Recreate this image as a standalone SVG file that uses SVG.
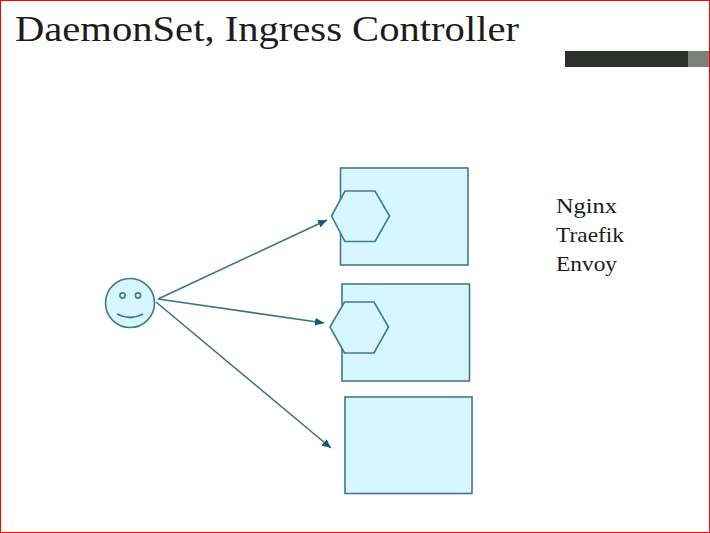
<svg xmlns="http://www.w3.org/2000/svg" width="710" height="533" viewBox="0 0 710 533">
<style>
.s{fill:#d6f7ff;stroke:#41798d;stroke-width:1.6}
.c{fill:none;stroke:#38758b;stroke-width:1.6;marker-end:url(#a)}
.f{fill:none;stroke:#41798d}
.t{font-family:"Liberation Serif",serif;fill:#1c1c1c}
.l{font-size:21px}
</style>
<defs><marker id="a" markerUnits="userSpaceOnUse" markerWidth="10" markerHeight="8" refX="9" refY="4" orient="auto"><path d="M0 0L9 4L0 8z" fill="#0f5a78"/></marker></defs>
<rect width="710" height="533" fill="#fff"/>
<rect x="0.500" y="0.500" width="709" height="532" fill="none" stroke="#f00"/>
<text class="t" x="15" y="41" font-size="36" textLength="504" lengthAdjust="spacingAndGlyphs">DaemonSet, Ingress Controller</text>
<rect x="565" y="51" width="123" height="16" fill="#2e302d"/>
<rect x="688" y="51" width="21" height="16" fill="#7d7f7b"/>
<g id="node1"><rect class="s" x="340.500" y="168" width="127.500" height="97"/></g>
<g id="node2"><rect class="s" x="342" y="284" width="127.500" height="97"/></g>
<g id="node3"><rect class="s" x="345" y="397" width="127" height="96.500"/></g>
<g id="hex1"><polygon class="s" points="331.500,216 345,191 375,191 389.500,216 375,241.500 345,241.500"/></g>
<g id="hex2"><polygon class="s" points="330,327 344.500,302 374,302 388.500,327 374,353 344.500,353"/></g>
<g id="person">
<circle class="s" cx="130" cy="303" r="24.500"/>
<circle class="f" cx="122.500" cy="295.500" r="2.600" stroke-width="1.600"/>
<circle class="f" cx="138" cy="295.500" r="2.600" stroke-width="1.600"/>
<path class="f" d="M117 314Q130 321 143 314" stroke-width="1.800"/>
</g>
<g id="connectors">
<line class="c" x1="158" y1="299" x2="327" y2="220"/>
<line class="c" x1="158" y1="299" x2="324" y2="323"/>
<line class="c" x1="156" y1="302" x2="331" y2="448"/>
</g>
<g id="labels">
<text class="t l" x="556" y="213" textLength="61" lengthAdjust="spacingAndGlyphs">Nginx</text>
<text class="t l" x="556" y="242" textLength="68" lengthAdjust="spacingAndGlyphs">Traefik</text>
<text class="t l" x="556" y="271" textLength="61" lengthAdjust="spacingAndGlyphs">Envoy</text>
</g>
</svg>
